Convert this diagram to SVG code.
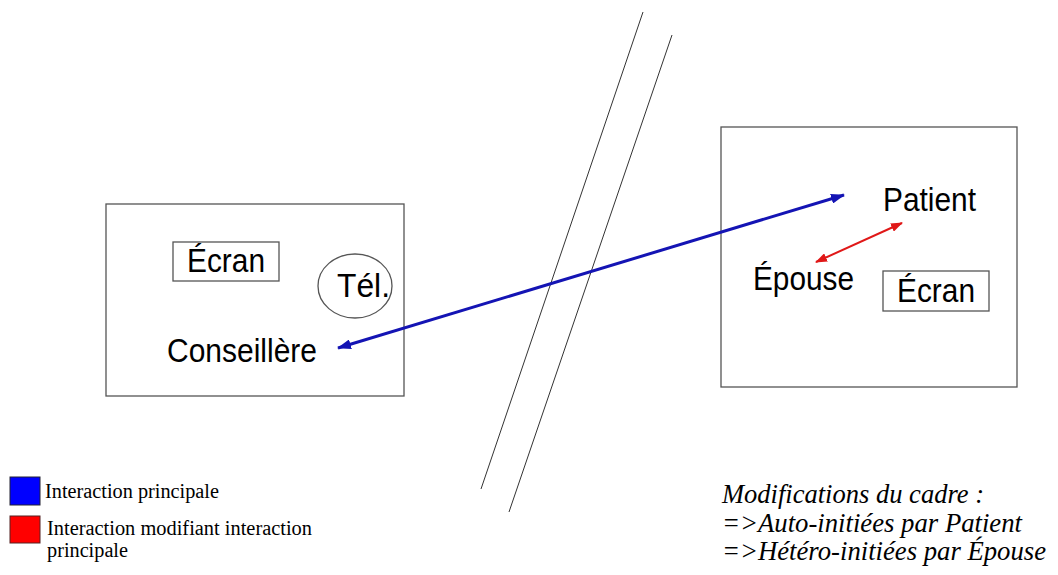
<svg xmlns="http://www.w3.org/2000/svg" width="1058" height="575" viewBox="0 0 1058 575">
<style>
.box{fill:none;stroke:#555;stroke-width:1.3}
.sans{font-family:"Liberation Sans",Arial,sans-serif;font-size:33px;fill:#000}
.serif{font-family:"Liberation Serif","Times New Roman",serif;font-size:20px;fill:#000}
.ital{font-family:"Liberation Serif","Times New Roman",serif;font-size:27px;font-style:italic;fill:#000}
.thin{stroke:#333;stroke-width:1;fill:none}
</style>
<defs>
<marker id="ab" markerUnits="userSpaceOnUse" viewBox="0 0 14 10" markerWidth="14" markerHeight="10" refX="13" refY="5" orient="auto-start-reverse"><path d="M0,0 L14,5 L0,10 Z" fill="#1414b4"/></marker>
<marker id="ar" markerUnits="userSpaceOnUse" viewBox="0 0 12 9" markerWidth="12" markerHeight="9" refX="11" refY="4.5" orient="auto-start-reverse"><path d="M0,0 L12,4.5 L0,9 Z" fill="#e01818"/></marker>
</defs>
<rect width="1058" height="575" fill="#fff"/>
<g id="separator">
<line class="thin" x1="643" y1="12" x2="481" y2="489"/>
<line class="thin" x1="672" y1="35" x2="509" y2="512"/>
</g>
<g id="left-room">
<rect class="box" x="106" y="204" width="298" height="192"/>
</g>
<g id="left-ecran">
<rect class="box" x="173" y="242" width="106" height="39"/>
<text class="sans" x="187" y="272" textLength="78" lengthAdjust="spacingAndGlyphs">Écran</text>
</g>
<g id="tel">
<ellipse class="box" cx="355" cy="286" rx="37" ry="32"/>
<text class="sans" x="337" y="297" textLength="53" lengthAdjust="spacingAndGlyphs">Tél.</text>
</g>
<g id="conseillere">
<text class="sans" x="167" y="362" textLength="150" lengthAdjust="spacingAndGlyphs">Conseillère</text>
</g>
<g id="right-room">
<rect class="box" x="721" y="127" width="296" height="260"/>
</g>
<g id="patient">
<text class="sans" x="883" y="211" textLength="93" lengthAdjust="spacingAndGlyphs">Patient</text>
</g>
<g id="epouse">
<text class="sans" x="753" y="290" textLength="101" lengthAdjust="spacingAndGlyphs">Épouse</text>
</g>
<g id="right-ecran">
<rect class="box" x="883" y="271" width="106" height="40"/>
<text class="sans" x="897" y="302" textLength="78" lengthAdjust="spacingAndGlyphs">Écran</text>
</g>
<g id="connectors">
<line x1="338" y1="348" x2="844" y2="195" stroke="#1414b4" stroke-width="3" marker-start="url(#ab)" marker-end="url(#ab)"/>
<line x1="816" y1="262" x2="902" y2="223" stroke="#e01818" stroke-width="2" marker-start="url(#ar)" marker-end="url(#ar)"/>
</g>
<g id="legend">
<rect x="10" y="477" width="30" height="28" fill="#0000ff" stroke="#223" stroke-width="1"/>
<text class="serif" x="45" y="498" textLength="174" lengthAdjust="spacingAndGlyphs">Interaction principale</text>
<rect x="10" y="516" width="30" height="27" fill="#ff0000" stroke="#522" stroke-width="1"/>
<text class="serif" x="47" y="535" textLength="265" lengthAdjust="spacingAndGlyphs">Interaction modifiant interaction</text>
<text class="serif" x="47" y="557" textLength="81" lengthAdjust="spacingAndGlyphs">principale</text>
</g>
<g id="note">
<text class="ital" x="722" y="503" textLength="262" lengthAdjust="spacingAndGlyphs">Modifications du cadre :</text>
<text class="ital" x="722" y="532" textLength="300" lengthAdjust="spacingAndGlyphs">=&gt;Auto-initiées par Patient</text>
<text class="ital" x="722" y="560" textLength="324" lengthAdjust="spacingAndGlyphs">=&gt;Hétéro-initiées par Épouse</text>
</g>
</svg>
